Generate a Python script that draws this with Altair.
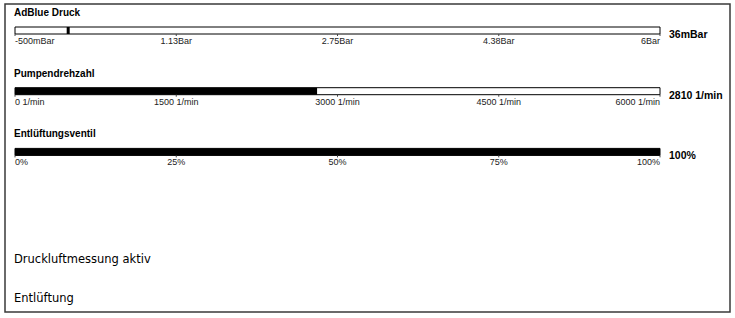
import altair as alt
import pandas as pd

# ---- data ----
gauge_titles = ["AdBlue Druck", "Pumpendrehzahl", "Entlüftungsventil"]
gauge_min = [-0.5, 0.0, 0.0]
gauge_max = [6.0, 6000.0, 100.0]
gauge_value = [0.036, 2810.0, 100.0]
gauge_value_text = ["36mBar", "2810 1/min", "100%"]
gauge_style = ["pointer", "fill", "fill"]
tick_labels = [
    ["-500mBar", "1.13Bar", "2.75Bar", "4.38Bar", "6Bar"],
    ["0 1/min", "1500 1/min", "3000 1/min", "4500 1/min", "6000 1/min"],
    ["0%", "25%", "50%", "75%", "100%"],
]
tick_fraction = [0.0, 0.25, 0.5, 0.75, 1.0]
status_texts = ["Druckluftmessung aktiv", "Entlüftung"]

# ---- layout helpers (rows) ----
ROW0, ROW_STEP = 13, 60.7
rows = []
for i, t in enumerate(gauge_titles):
    top = ROW0 + i * ROW_STEP
    frac = (gauge_value[i] - gauge_min[i]) / (gauge_max[i] - gauge_min[i])
    rows.append(dict(title=t, ty=top, b0=top + 14, b1=top + 21, lab_y=top + 28,
                     val_y=top + 22, frac=frac, x0=0.0, x1=1.0,
                     vtext=gauge_value_text[i], style=gauge_style[i]))
gdf = pd.DataFrame(rows)

ticks = []
for i, labs in enumerate(tick_labels):
    for j, (f, lab) in enumerate(zip(tick_fraction, labs)):
        ticks.append(dict(f=f, label=lab, pos=("first" if j == 0 else "last" if j == len(labs) - 1 else "mid"),
                          b1=gdf.b1[i], t1=gdf.b1[i] + 2, lab_y=gdf.lab_y[i]))
tdf = pd.DataFrame(ticks)

sdf = pd.DataFrame({"text": status_texts, "y": [260, 299], "x": [0.0, 0.0]})

FONT = "Liberation Sans"
X = alt.Scale(domain=[0, 1], range=[15, 660])
Y = alt.Scale(domain=[0, 318], range=[0, 318])

frame = alt.Chart(pd.DataFrame({"a": [0]})).mark_rect(
    fill="white", stroke="#3a3a3a", strokeWidth=1.5
).encode(x=alt.value(5), x2=alt.value(730), y=alt.value(4), y2=alt.value(312))

base = alt.Chart(gdf)

titles = base.mark_text(align="left", baseline="middle", font=FONT, fontSize=10,
                        fontWeight="bold", dx=-1).encode(
    x=alt.X("x0:Q", scale=X, axis=None), y=alt.Y("ty:Q", scale=Y, axis=None), text="title:N")

bar_bg = base.mark_rect(fill="white", stroke="black", strokeWidth=1).encode(
    x=alt.X("x0:Q", scale=X, axis=None), x2="x1:Q",
    y=alt.Y("b0:Q", scale=Y, axis=None), y2="b1:Q")

bar_fill = base.transform_filter(alt.datum.style == "fill").mark_rect(fill="black").encode(
    x=alt.X("x0:Q", scale=X, axis=None), x2="frac:Q",
    y=alt.Y("b0:Q", scale=Y, axis=None), y2="b1:Q")

pointer = base.transform_filter(alt.datum.style == "pointer").mark_rule(
    color="black", strokeWidth=3).encode(
    x=alt.X("frac:Q", scale=X, axis=None),
    y=alt.Y("b0:Q", scale=Y, axis=None), y2="b1:Q")

values = base.mark_text(align="left", baseline="middle", font=FONT, fontSize=10.5,
                        fontWeight="bold", dx=9).encode(
    x=alt.X("x1:Q", scale=X, axis=None), y=alt.Y("val_y:Q", scale=Y, axis=None), text="vtext:N")

tbase = alt.Chart(tdf)
tick_marks = tbase.mark_rule(color="#444", strokeWidth=1).encode(
    x=alt.X("f:Q", scale=X, axis=None),
    y=alt.Y("b1:Q", scale=Y, axis=None), y2="t1:Q")

def tick_text(pos, align):
    return tbase.transform_filter(alt.datum.pos == pos).mark_text(
        align=align, baseline="middle", font=FONT, fontSize=9, color="#222").encode(
        x=alt.X("f:Q", scale=X, axis=None), y=alt.Y("lab_y:Q", scale=Y, axis=None), text="label:N")

status = alt.Chart(sdf).mark_text(align="left", baseline="middle", font="DejaVu Sans",
                                  fontSize=11.5, color="#000", dx=-1).encode(
    x=alt.X("x:Q", scale=X, axis=None), y=alt.Y("y:Q", scale=Y, axis=None), text="text:N")

chart = alt.layer(
    frame, titles, bar_bg, bar_fill, pointer, tick_marks,
    tick_text("first", "left"), tick_text("mid", "center"), tick_text("last", "right"),
    values, status
).properties(
    width=735, height=318, autosize=alt.AutoSizeParams(type="none"), padding=0,
    background="white"
).configure_view(stroke=None)

chart.save("out.html", embed_options={"renderer": "svg", "actions": False})
